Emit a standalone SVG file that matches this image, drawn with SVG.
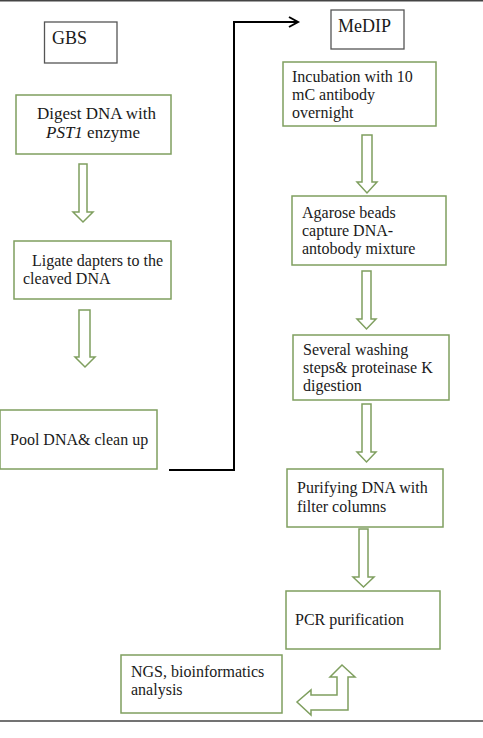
<svg xmlns="http://www.w3.org/2000/svg" width="483" height="738" viewBox="0 0 483 738">
<style>
  .gbox { fill: #ffffff; stroke: #7f9f5f; stroke-width: 1.5; }
  .kbox { fill: #ffffff; stroke: #555555; stroke-width: 1.3; }
  .hollow { fill: #ffffff; stroke: #7f9f5f; stroke-width: 1.5; stroke-linejoin: miter; }
  .conn { fill: none; stroke: #000000; stroke-width: 2; }
  .rule { stroke: #444444; stroke-width: 1.5; }
</style>
<rect x="0" y="0" width="483" height="738" fill="#ffffff"/>
<line class="rule" x1="0" y1="0.8" x2="483" y2="0.8"/>
<line class="rule" x1="0" y1="721" x2="483" y2="721"/>

<g id="connectors">
  <path class="conn" d="M169,470 H234 V22 H297"/>
  <path class="conn" d="M289,17 L298,22 L289,27"/>
  <polygon class="hollow" points="79,164 87,164 87,212 93,212 83,222 73,212 79,212"/>
  <polygon class="hollow" points="79,310 90,310 90,357 95,357 85,367 75,357 79,357"/>
  <polygon class="hollow" points="362,135 372,135 372,182 377,182 367,193 357,182 362,182"/>
  <polygon class="hollow" points="362,271 371,271 371,319 376,319 366.5,329 357,319 362,319"/>
  <polygon class="hollow" points="362,404 371,404 371,452 376,452 366.5,462 357,452 362,452"/>
  <polygon class="hollow" points="359,529 368,529 368,577 374,577 363.5,587 353,577 359,577"/>
  <polygon class="hollow" points="342,665 355,677 348,677 348,710 311,710 311,715 297,702 311,690 311,695 337,695 337,677 330,677"/>
</g>

<g id="gbs">
  <rect class="kbox" x="44.5" y="22" width="72.5" height="41"/>
  <text x="52" y="44" font-family="Liberation Serif" font-size="18" fill="#1a1a1a">GBS</text>
</g>
<g id="digest">
  <rect class="gbox" x="16" y="95" width="155" height="59"/>
  <text x="37" y="119" font-family="Liberation Serif" font-size="17" fill="#1a1a1a">Digest DNA with</text>
  <text x="46" y="138" font-family="Liberation Serif" font-size="17" fill="#1a1a1a"><tspan font-style="italic">PST1</tspan> enzyme</text>
</g>
<g id="ligate">
  <rect class="gbox" x="14" y="241" width="157" height="58"/>
  <text x="32" y="266" font-family="Liberation Serif" font-size="16" fill="#1a1a1a">Ligate dapters to the</text>
  <text x="23" y="284" font-family="Liberation Serif" font-size="16" fill="#1a1a1a">cleaved DNA</text>
</g>
<g id="pool">
  <rect class="gbox" x="0" y="410" width="157" height="59"/>
  <text x="10" y="445" font-family="Liberation Serif" font-size="16" fill="#1a1a1a">Pool DNA&amp; clean up</text>
</g>

<g id="medip">
  <rect class="kbox" x="331" y="10" width="73" height="39"/>
  <text x="338" y="32" font-family="Liberation Serif" font-size="18" fill="#1a1a1a">MeDIP</text>
</g>
<g id="incubation">
  <rect class="gbox" x="283" y="62" width="153" height="64"/>
  <text x="292" y="82" font-family="Liberation Serif" font-size="16" fill="#1a1a1a">Incubation with 10</text>
  <text x="292" y="100" font-family="Liberation Serif" font-size="16" fill="#1a1a1a">mC antibody</text>
  <text x="292" y="118" font-family="Liberation Serif" font-size="16" fill="#1a1a1a">overnight</text>
</g>
<g id="agarose">
  <rect class="gbox" x="292" y="196" width="154" height="69"/>
  <text x="302" y="218" font-family="Liberation Serif" font-size="16" fill="#1a1a1a">Agarose beads</text>
  <text x="302" y="236" font-family="Liberation Serif" font-size="16" fill="#1a1a1a">capture DNA-</text>
  <text x="302" y="254" font-family="Liberation Serif" font-size="16" fill="#1a1a1a">antobody mixture</text>
</g>
<g id="washing">
  <rect class="gbox" x="293" y="335" width="156" height="65"/>
  <text x="303" y="355" font-family="Liberation Serif" font-size="16" fill="#1a1a1a">Several washing</text>
  <text x="303" y="373" font-family="Liberation Serif" font-size="16" fill="#1a1a1a">steps&amp; proteinase K</text>
  <text x="303" y="391" font-family="Liberation Serif" font-size="16" fill="#1a1a1a">digestion</text>
</g>
<g id="purifying">
  <rect class="gbox" x="287" y="469" width="156" height="58"/>
  <text x="297" y="493" font-family="Liberation Serif" font-size="16" fill="#1a1a1a">Purifying DNA with</text>
  <text x="297" y="512" font-family="Liberation Serif" font-size="16" fill="#1a1a1a">filter columns</text>
</g>
<g id="pcr">
  <rect class="gbox" x="286" y="591" width="154" height="58"/>
  <text x="295" y="625" font-family="Liberation Serif" font-size="16" fill="#1a1a1a">PCR purification</text>
</g>
<g id="ngs">
  <rect class="gbox" x="121" y="655" width="161" height="58"/>
  <text x="131" y="677" font-family="Liberation Serif" font-size="16" fill="#1a1a1a">NGS, bioinformatics</text>
  <text x="131" y="695" font-family="Liberation Serif" font-size="16" fill="#1a1a1a">analysis</text>
</g>
</svg>
